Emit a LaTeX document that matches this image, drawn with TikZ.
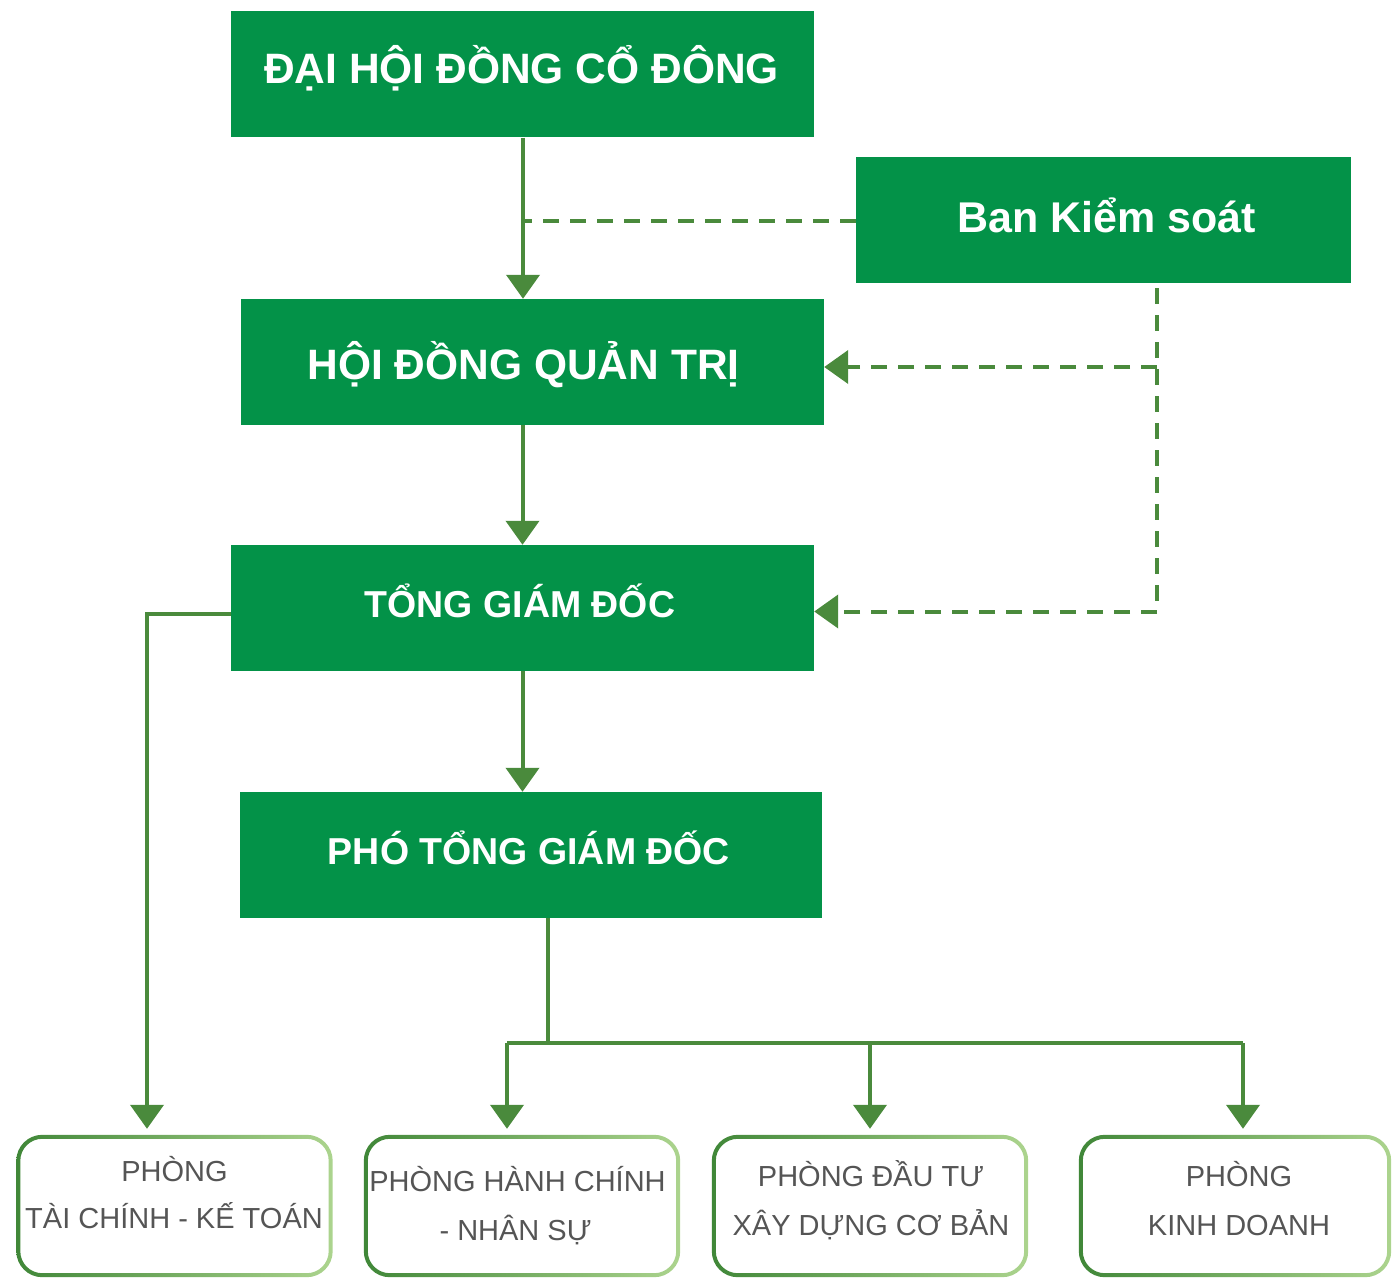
\documentclass[tikz,border=0pt]{standalone}
\usepackage{fontspec}
\setmainfont{Liberation Sans}
\usetikzlibrary{arrows.meta,calc}
\definecolor{boxg}{RGB}{3,146,72}
\definecolor{gdark}{RGB}{64,135,56}
\definecolor{glight}{RGB}{172,212,142}
\definecolor{lineg}{RGB}{74,138,60}
\definecolor{txtg}{RGB}{85,85,85}
\begin{document}
\begin{tikzpicture}[x=1pt,y=-1pt,
  topbox/.style={fill=boxg, inner sep=0pt, minimum width=583pt, minimum height=126pt},
  ttl/.style={anchor=base, inner sep=0pt, text=white, font=\bfseries\fontsize{42.5}{50}\selectfont},
  ttlm/.style={ttl, font=\bfseries\fontsize{37.5}{44}\selectfont},
  dept/.style={inner sep=0pt, minimum width=316pt, minimum height=142pt},
  dtxt/.style={anchor=base, inner sep=0pt, text=txtg, font=\fontsize{29}{34}\selectfont},
  conn/.style={draw=lineg, line width=4pt},
  arr/.style={conn, -{Triangle[length=24pt,width=33pt]}},
  dsh/.style={conn, dash pattern=on 16pt off 11pt},
]
\useasboundingbox (0,0) rectangle (1392,1279);

% main boxes
\node[topbox] (dh) at (522.5,74.5) {};
\node[topbox, minimum width=495pt] (bks) at (1103.5,220) {};
\node[topbox] (hd) at (532.5,362) {};
\node[topbox] (tg) at (522.5,608) {};
\node[topbox, minimum width=582pt] (pt) at (531,855) {};
\node[ttl] (dht) at (521.5,83.7) {ĐẠI HỘI ĐỒNG CỔ ĐÔNG};
\node[ttl, font=\bfseries\fontsize{43}{50}\selectfont] (bkst) at (1106.5,232) {Ban Kiểm soát};
\node[ttl] (hdt) at (523.5,379) {HỘI ĐỒNG QUẢN TRỊ};
\node[ttlm] (tgt) at (520,617.7) {TỔNG GIÁM ĐỐC};
\node[ttlm] (ptt) at (529,864.7) {PHÓ TỔNG GIÁM ĐỐC};

% department boxes
\node[dept] (p1) at (174.5,1206) {};
\node[dept] (p2) at (522,1206) {};
\node[dept] (p3) at (870,1206) {};
\node[dept, minimum width=312pt] (p4) at (1235,1206) {};
\foreach \n in {p1,p2,p3,p4}
  \shade[left color=gdark, right color=glight, even odd rule, rounded corners=26pt]
    (\n.south west) rectangle (\n.north east)
    [rounded corners=22pt] ($(\n.south west)+(4pt,4pt)$) rectangle ($(\n.north east)+(-4pt,-4pt)$);
\node[dtxt] (p1a) at (174.5,1181.7) {PHÒNG};
\node[dtxt] (p1b) at (174,1228.3) {TÀI CHÍNH - KẾ TOÁN};
\node[dtxt] (p2a) at (517.5,1191.7) {PHÒNG HÀNH CHÍNH};
\node[dtxt] (p2b) at (515.6,1240) {- NHÂN SỰ};
\node[dtxt] (p3a) at (871,1186.7) {PHÒNG ĐẦU TƯ};
\node[dtxt] (p3b) at (871,1235) {XÂY DỰNG CƠ BẢN};
\node[dtxt] (p4a) at (1239,1186.7) {PHÒNG};
\node[dtxt] (p4b) at (1239,1235) {KINH DOANH};

% helper coordinates
\coordinate (kx) at (1157,288);
\coordinate (k1) at (1157,367);
\coordinate (k2) at (1157,611.5);
\coordinate (lx) at (147,614);
\coordinate (bx) at (548,1043);
\coordinate (a2) at (507,0);
\coordinate (a4) at (1243,0);

% solid connectors
\draw[arr] (dh.south -| 523,0) -- (hd.north -| 523,0);
\draw[arr] (hd.south -| tg.south) -- (tg.north);
\draw[arr] (tg.south) -- (tg.south |- pt.north);
\draw[arr, shorten >=6pt] (tg.west |- lx) -| (p1.north -| lx);
\draw[conn] (pt.south -| bx) -- (bx);
\draw[conn] (bx -| a2) -- (bx -| a4);
\draw[arr, shorten >=6pt] (bx -| a2) -- (p2.north -| a2);
\draw[arr, shorten >=6pt] (bx -| p3.north) -- (p3.north);
\draw[arr, shorten >=6pt] (bx -| a4) -- (p4.north -| a4);

% dashed connectors
\draw[dsh] (bks.west |- 0,220.7) -- (523,220.7);
\draw[dsh] (kx) -- (k2);
\draw[dsh, -{Triangle[length=24pt,width=33pt]}] (k1) -- (hd.east |- k1);
\draw[dsh, -{Triangle[length=24pt,width=33pt]}] (k2) -- (tg.east |- k2);
\end{tikzpicture}
\end{document}
